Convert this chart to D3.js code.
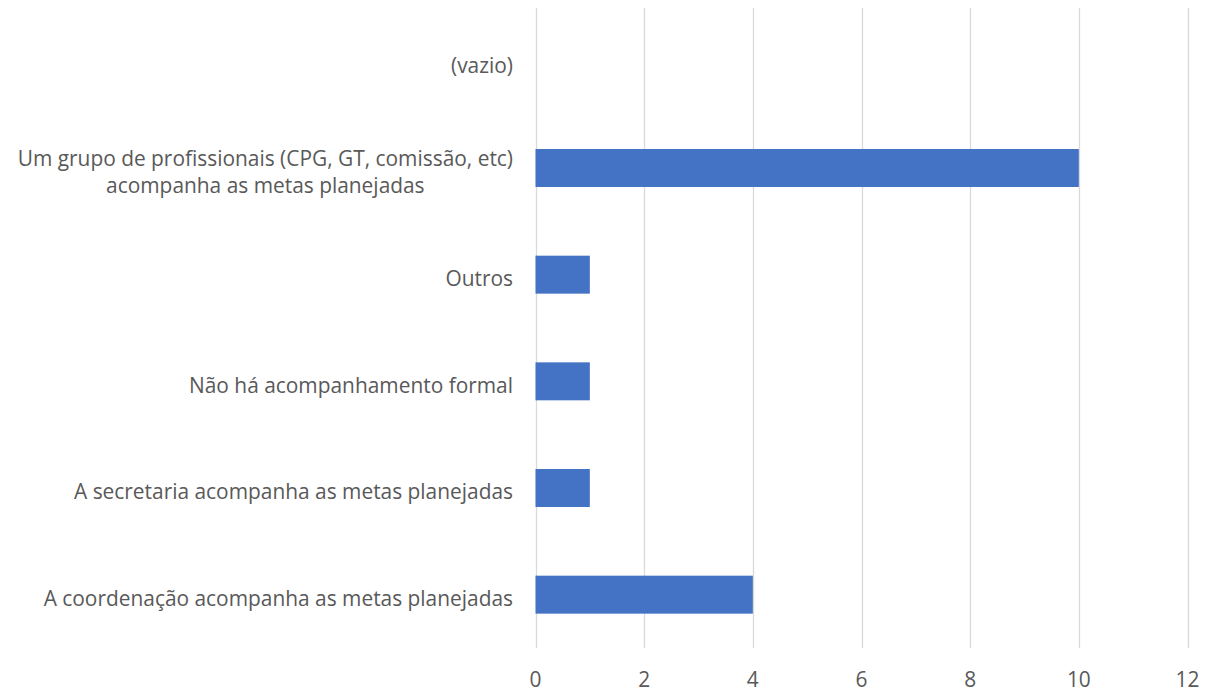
<!DOCTYPE html>
<html><head><meta charset="utf-8">
<script src="https://cdn.jsdelivr.net/npm/d3@7"></script>
<style>body{margin:0;background:#fff;} text{font-family:"Open Sans",sans-serif;}</style>
</head><body>
<svg id="c" width="1205" height="695"></svg>
<script>
const categories = [
  "(vazio)",
  "Um grupo de profissionais (CPG, GT, comissão, etc)|acompanha as metas planejadas",
  "Outros",
  "Não há acompanhamento formal",
  "A secretaria acompanha as metas planejadas",
  "A coordenação acompanha as metas planejadas"
];
const values = [null, 10, 1, 1, 1, 4];
const xTicks = [0, 2, 4, 6, 8, 10, 12];

(function () {
const svg = d3.select("#c");
const mLeft = 535.5, mRight = 1187.5, mTop = 8, mBottom = 648;
const fs = 20.9;
const x = d3.scaleLinear().domain([0, 12]).range([mLeft, mRight]);
const y = d3.scaleBand().domain(categories).range([mTop, mBottom]).paddingInner(0.644).paddingOuter(0.322);

svg.append("g").selectAll("line").data(xTicks).join("line")
  .attr("x1", d => Math.round(x(d)) + 0.5).attr("x2", d => Math.round(x(d)) + 0.5)
  .attr("y1", mTop).attr("y2", mBottom)
  .attr("stroke", "#d9d9d9").attr("stroke-width", 1.3);

svg.append("g").selectAll("rect").data(categories.map((c, i) => ({c, v: values[i]})).filter(d => d.v != null)).join("rect")
  .attr("x", x(0)).attr("y", d => y(d.c))
  .attr("width", d => x(d.v) - x(0)).attr("height", y.bandwidth())
  .attr("fill", "#4472C4");

svg.append("g").selectAll("text").data(xTicks).join("text")
  .attr("x", d => x(d)).attr("y", 680).attr("dy", "0.35em")
  .attr("text-anchor", "middle").attr("fill", "#595959").attr("font-size", fs)
  .text(d => d);

const lab = svg.append("g");
categories.forEach(c => {
  const lines = c.split("|");
  const cy = y(c) + y.bandwidth() / 2 + 4;
  const lh = 27;
  const g = lab.append("g");
  const texts = lines.map((l, i) => g.append("text")
    .attr("y", cy + (i - (lines.length - 1) / 2) * lh).attr("dy", "0.35em")
    .attr("fill", "#595959").attr("font-size", fs).text(l));
  const widths = texts.map(t => t.node().getComputedTextLength());
  const maxW = Math.max(...widths);
  const cx = 513 - maxW / 2;
  texts.forEach(t => t.attr("x", cx).attr("text-anchor", "middle"));
});
})();
</script>
</body></html>
